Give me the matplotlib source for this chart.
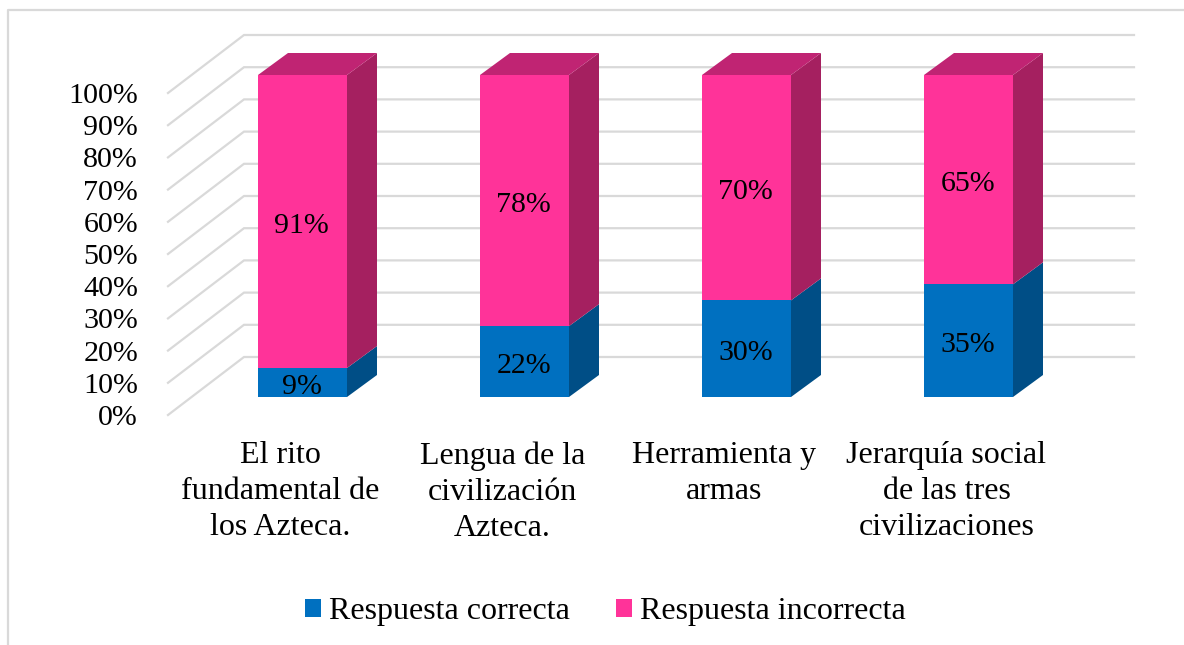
import matplotlib.pyplot as plt
from matplotlib.patches import Polygon, Rectangle

plt.rcParams['font.family'] = ['Liberation Serif', 'DejaVu Serif']

categories = ["El rito\nfundamental de\nlos Azteca.", "Lengua de la\ncivilización\nAzteca.",
              "Herramienta y\narmas", "Jerarquía social\nde las tres\ncivilizaciones"]
correcta = [9, 22, 30, 35]
incorrecta = [91, 78, 70, 65]
y_ticks = [0, 10, 20, 30, 40, 50, 60, 70, 80, 90, 100]

W, H = 1184, 645
PX_X = 1 / 222  # one pixel in x data units
PX_Y = 100 / 322  # one pixel in y data units

BAR_W = 89 * PX_X
DEPTH_X = 30 * PX_X
DEPTH_Y = 22 * PX_Y
FLOOR_Y = 18 * PX_Y  # front edge of the floor is below the bars
WALL_Y = 40 * PX_Y  # back wall is above the bars
GRID_LEFT = 168
GRID_BACK = 244
GRID_RIGHT = 1134
GRID_COLOR = "#d9d9d9"


def x_from_px(px):
    return (px - 302.5) * PX_X


def draw_segment(ax, x, bottom, value, front, side, top=None):
    left = x - BAR_W / 2
    right = x + BAR_W / 2
    ax.add_patch(Rectangle((left, bottom), BAR_W, value, fc=front, ec="none", zorder=3, clip_on=False))
    ax.add_patch(Polygon([(right, bottom), (right + DEPTH_X, bottom + DEPTH_Y),
                          (right + DEPTH_X, bottom + value + DEPTH_Y), (right, bottom + value)],
                         fc=side, ec="none", zorder=3, clip_on=False))
    if top:
        ax.add_patch(Polygon([(left, bottom + value), (left + DEPTH_X, bottom + value + DEPTH_Y),
                              (right + DEPTH_X, bottom + value + DEPTH_Y), (right, bottom + value)],
                             fc=top, ec="none", zorder=3, clip_on=False))
    ax.annotate(f"{value}%", (x, bottom + value / 2), xytext=(-0.5, -3), textcoords="offset points",
                ha="center", va="center", fontsize=21.5, zorder=4)


def main():
    fig = plt.figure(figsize=(W / 100, H / 100), dpi=100)

    # outer chart frame, only top and left are visible in the crop
    fig.add_artist(plt.Line2D([8 / W, 8 / W, 1], [0, 1 - 9.5 / H, 1 - 9.5 / H], color=GRID_COLOR, lw=1.6))

    ax = fig.add_axes([191.5 / W, 1 - 415 / H, 888 / W, (415 - 75) / H])
    ax.set_xlim(-0.5, 3.5)
    ax.set_ylim(-FLOOR_Y, 100)
    ax.patch.set_visible(False)
    for s in ax.spines.values():
        s.set_visible(False)

    for v in y_ticks:
        ax.plot([x_from_px(GRID_LEFT), x_from_px(GRID_BACK), x_from_px(GRID_RIGHT)],
                [v - FLOOR_Y, v + WALL_Y, v + WALL_Y],
                color=GRID_COLOR, lw=1.6, clip_on=False, zorder=1, solid_joinstyle="miter")

    for i in range(len(categories)):
        draw_segment(ax, i, 0, correcta[i], "#0070c0", "#004e86")
        draw_segment(ax, i, correcta[i], incorrecta[i], "#ff3399", "#a52060", "#c02473")

    ax.set_yticks([v - FLOOR_Y for v in y_ticks])
    ax.set_yticklabels([f"{v}%" for v in y_ticks], fontsize=21.6)
    ax.set_xticks([i - 22 * PX_X for i in range(len(categories))])
    ax.set_xticklabels(categories, fontsize=23, linespacing=1.315, va="top")
    ax.tick_params(axis="y", length=0, pad=38.5)
    ax.tick_params(axis="x", length=0, pad=19)

    handles = [Rectangle((0, 0), 1, 1, fc="#0070c0"), Rectangle((0, 0), 1, 1, fc="#ff3399")]
    fig.legend(handles, ["Respuesta correcta", "Respuesta incorrecta"], ncol=2, frameon=False,
               fontsize=23, loc="center", bbox_to_anchor=(605.5 / W, 1 - 612 / H),
               handlelength=0.5, handleheight=0.5, handletextpad=0.25, columnspacing=1.44,
               borderpad=0)

    fig.savefig("out.png", dpi=100)


if __name__ == '__main__':
    main()
